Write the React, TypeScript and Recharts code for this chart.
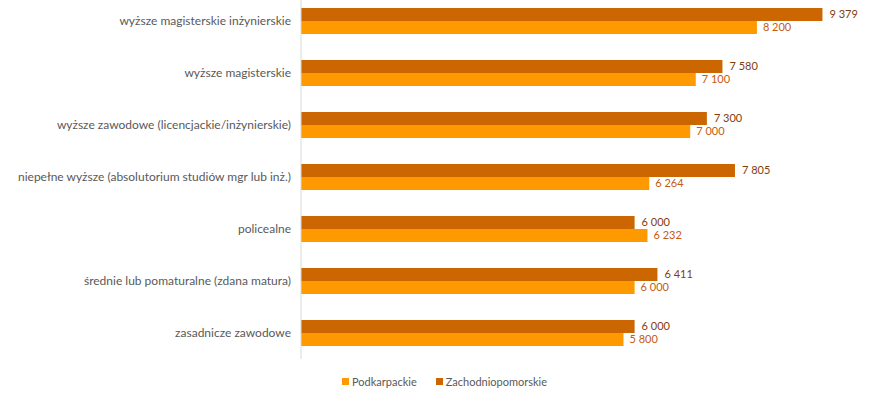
import { Bar, BarChart, LabelList, Legend, XAxis, YAxis } from "recharts";

const categories = [
  "wyższe magisterskie inżynierskie",
  "wyższe magisterskie",
  "wyższe zawodowe (licencjackie/inżynierskie)",
  "niepełne wyższe (absolutorium studiów mgr lub inż.)",
  "policealne",
  "średnie lub pomaturalne (zdana matura)",
  "zasadnicze zawodowe",
];

const zachodniopomorskie = [9379, 7580, 7300, 7805, 6000, 6411, 6000];
const podkarpackie = [8200, 7100, 7000, 6264, 6232, 6000, 5800];

const data = categories.map((name, i) => ({
  name,
  zach: zachodniopomorskie[i],
  podk: podkarpackie[i],
}));

const DARK = "#CC6600";
const LIGHT = "#FF9900";
const FONT = "Lato, 'Open Sans', sans-serif";

const fmt = (v: number) => String(v).replace(/\B(?=(\d{3})+(?!\d))/g, " ");

function CategoryTick(props: any) {
  const { x, y, payload } = props;
  return (
    <text x={x - 1} y={y} dy={4} textAnchor="end" fontSize={12} fill="#595959" fontFamily={FONT}>
      {payload.value}
    </text>
  );
}

function LegendBox() {
  const items = [
    { label: "Podkarpackie", color: LIGHT },
    { label: "Zachodniopomorskie", color: DARK },
  ];
  return (
    <div style={{ display: "flex", alignItems: "center", paddingLeft: 342, height: 20 }}>
      {items.map((it) => (
        <div key={it.label} style={{ display: "flex", alignItems: "center", marginRight: 19 }}>
          <span style={{ width: 7, height: 7, background: it.color, marginRight: 3 }} />
          <span style={{ fontFamily: FONT, fontSize: 11, color: "#595959" }}>{it.label}</span>
        </div>
      ))}
    </div>
  );
}

export default function App() {
  return (
    <div style={{ position: "absolute", left: 0, top: -5 }}>
      <BarChart
        width={871}
        height={403}
        data={data}
        layout="vertical"
        barGap={0}
        barSize={13}
        margin={{ top: 0, right: 14, bottom: 19, left: 0 }}
      >
        <XAxis type="number" domain={[0, 10000]} hide />
        <YAxis
          type="category"
          dataKey="name"
          width={301}
          tickLine={false}
          tickMargin={3}
          axisLine={{ stroke: "#d9d9d9" }}
          tick={<CategoryTick />}
          interval={0}
        />
        <Legend
          content={() => <LegendBox />}
          wrapperStyle={{ top: 376, left: 0, width: 871 }}
        />
        <Bar dataKey="zach" name="Zachodniopomorskie" fill={DARK} isAnimationActive={false}>
          <LabelList
            dataKey="zach"
            position="right"
            offset={7}
            formatter={(v: any) => fmt(Number(v))}
            style={{ fontSize: 11, fill: "#843C0C", fontFamily: FONT }}
          />
        </Bar>
        <Bar dataKey="podk" name="Podkarpackie" fill={LIGHT} isAnimationActive={false}>
          <LabelList
            dataKey="podk"
            position="right"
            offset={6}
            formatter={(v: any) => fmt(Number(v))}
            style={{ fontSize: 11, fill: "#C55A11", fontFamily: FONT }}
          />
        </Bar>
      </BarChart>
    </div>
  );
}
